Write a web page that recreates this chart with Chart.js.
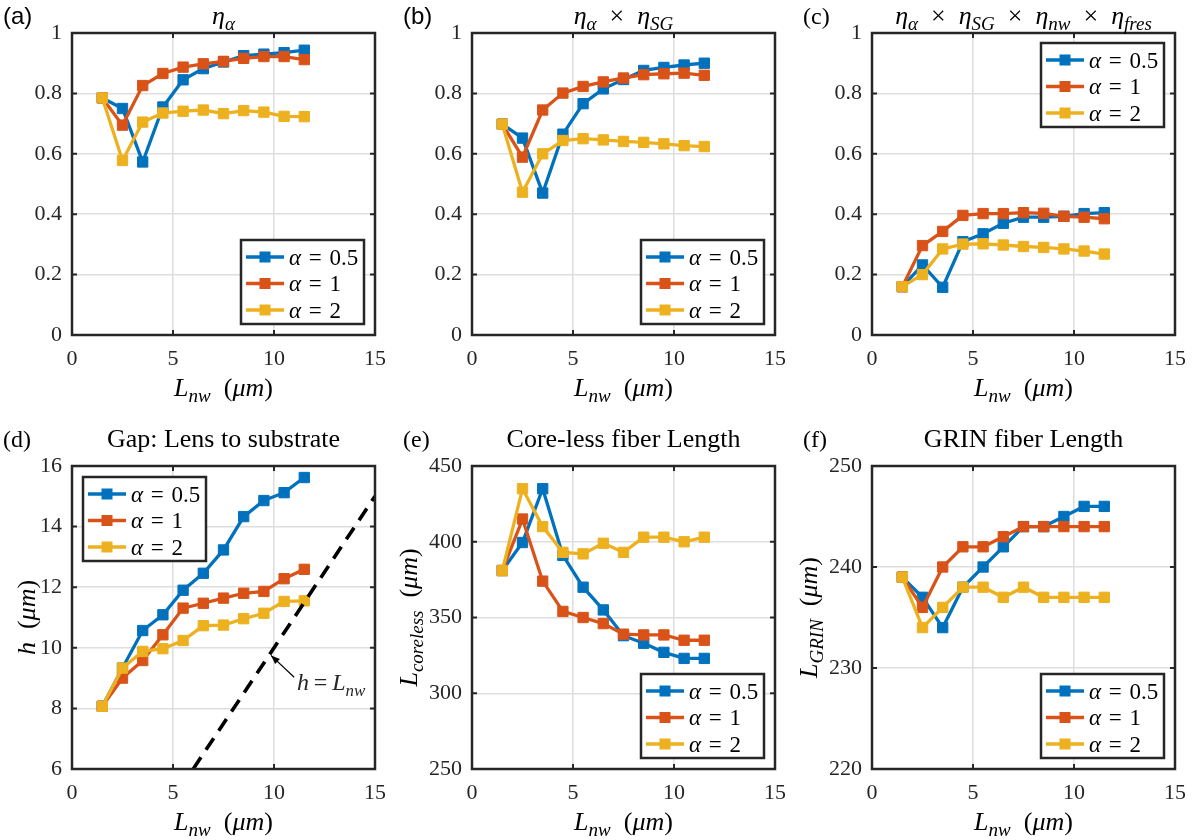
<!DOCTYPE html>
<html>
<head>
<meta charset="utf-8">
<script src="https://cdn.jsdelivr.net/npm/chart.js@4.4.1/dist/chart.umd.min.js"></script>
<style>
  html, body { margin: 0; padding: 0; background: #fff; }
  body { width: 1195px; height: 840px; overflow: hidden; position: relative; }
  canvas { position: absolute; }
</style>
</head>
<body>
<script>
// Nanowire length sweep (µm)
const lnw = [1.5, 2.5, 3.5, 4.5, 5.5, 6.5, 7.5, 8.5, 9.5, 10.5, 11.5];
const alphaValues = ['0.5', '1', '2'];

// (a) eta_alpha
const etaA_05 = [0.785, 0.750, 0.573, 0.755, 0.845, 0.882, 0.904, 0.925, 0.930, 0.935, 0.943];
const etaA_1  = [0.785, 0.695, 0.826, 0.866, 0.887, 0.898, 0.906, 0.916, 0.922, 0.922, 0.912];
const etaA_2  = [0.785, 0.578, 0.705, 0.735, 0.741, 0.745, 0.733, 0.743, 0.738, 0.724, 0.723];

// (b) eta_alpha x eta_SG
const etaSG_05 = [0.698, 0.652, 0.470, 0.665, 0.766, 0.815, 0.846, 0.876, 0.886, 0.894, 0.900];
const etaSG_1  = [0.698, 0.589, 0.745, 0.801, 0.823, 0.838, 0.851, 0.862, 0.865, 0.867, 0.860];
const etaSG_2  = [0.698, 0.473, 0.600, 0.644, 0.650, 0.646, 0.641, 0.638, 0.633, 0.627, 0.624];

// (c) total efficiency
const etaT_05 = [0.160, 0.232, 0.158, 0.309, 0.335, 0.370, 0.390, 0.390, 0.393, 0.402, 0.405];
const etaT_1  = [0.160, 0.296, 0.343, 0.396, 0.402, 0.402, 0.405, 0.403, 0.393, 0.390, 0.385];
const etaT_2  = [0.160, 0.200, 0.285, 0.301, 0.302, 0.298, 0.293, 0.290, 0.285, 0.278, 0.268];

// (d) lens-to-substrate gap h (µm)
const gap_05 = [8.07, 9.33, 10.57, 11.09, 11.90, 12.46, 13.23, 14.33, 14.86, 15.12, 15.62];
const gap_1  = [8.07, 9.00, 9.58, 10.43, 11.31, 11.47, 11.64, 11.80, 11.86, 12.28, 12.59];
const gap_2  = [8.07, 9.33, 9.88, 9.97, 10.24, 10.73, 10.75, 10.96, 11.14, 11.53, 11.55];
// reference line h = L_nw
const identityX = [6, 15];
const identityY = [6, 15];

// (e) core-less fiber length (µm)
const coreless_05 = [381, 399.5, 435, 391, 370, 355, 338, 333, 327, 323, 323];
const coreless_1  = [381, 415, 374, 354, 350, 346, 339, 338.5, 338.5, 335, 335];
const coreless_2  = [381, 435, 410, 393, 392, 399, 393, 403, 403, 400, 403];

// (f) GRIN fiber length (µm)
const grin_05 = [239, 237, 234, 238, 240, 242, 244, 244, 245, 246, 246];
const grin_1  = [239, 236, 240, 242, 242, 243, 244, 244, 244, 244, 244];
const grin_2  = [239, 234, 236, 238, 238, 237, 238, 237, 237, 237, 237];

// tick values
const lnwTicks      = [0, 5, 10, 15];
const etaTicks      = [0, 0.2, 0.4, 0.6, 0.8, 1];
const gapTicks      = [6, 8, 10, 12, 14, 16];
const corelessTicks = [250, 300, 350, 400, 450];
const grinTicks     = [220, 230, 240, 250];

const COLORS = ['#0072BD', '#D95319', '#EDB120'];
const SERIF = '"Liberation Serif", "DejaVu Serif", serif';
const SANS = '"Liberation Sans", Arial, sans-serif';
const FS = 22;       // tick labels
const LFS = 26;      // titles and axis labels
const SP = '\u2002'; // en space around binary operators
const LSP = '\u2004'; // narrower space used in legend entries

// rich-text segments: italic, roman, italic subscript
const I = t => ({ t, it: true });
const R = t => ({ t, it: false });
const S = t => ({ t, it: true, sub: true });

function segFont(s, size) {
  const px = s.sub ? Math.round(size * 0.72) : size;
  return (s.it ? 'italic ' : '') + px + 'px ' + SERIF;
}
function richWidth(ctx, segs, size) {
  let w = 0;
  segs.forEach(s => { ctx.font = segFont(s, size); w += ctx.measureText(s.t).width; });
  return w;
}
function drawRich(ctx, segs, x, y, size, align) {
  const w = richWidth(ctx, segs, size);
  let cx = align === 'center' ? x - w / 2 : (align === 'right' ? x - w : x);
  ctx.textAlign = 'left';
  ctx.textBaseline = 'alphabetic';
  segs.forEach(s => {
    ctx.font = segFont(s, size);
    ctx.fillText(s.t, cx, y + (s.sub ? size * 0.24 : 0));
    cx += ctx.measureText(s.t).width;
  });
}

const X = R(SP + '×' + SP);
const xLabel = [I('L'), S('nw'), R('\u2002('), I('μm'), R(')')];

const panels = [
  { tag: '(a)', tagFont: SANS, row: 0, col: 0, title: [I('η'), S('α')],
    series: [etaA_05, etaA_1, etaA_2], yTicks: etaTicks, legend: 'br' },
  { tag: '(b)', tagFont: SANS, row: 0, col: 1,
    title: [I('η'), S('α'), X, I('η'), S('SG')],
    series: [etaSG_05, etaSG_1, etaSG_2], yTicks: etaTicks, legend: 'br' },
  { tag: '(c)', tagFont: SERIF, row: 0, col: 2,
    title: [I('η'), S('α'), X, I('η'), S('SG'), X, I('η'), S('nw'), X, I('η'), S('fres')],
    series: [etaT_05, etaT_1, etaT_2], yTicks: etaTicks, legend: 'tr' },
  { tag: '(d)', tagFont: SERIF, row: 1, col: 0, title: [R('Gap: Lens to substrate')],
    series: [gap_05, gap_1, gap_2], yTicks: gapTicks, legend: 'tl',
    yLabel: [I('h'), R('\u2002('), I('μm'), R(')')], yLabelDx: -37, identity: true },
  { tag: '(e)', tagFont: SERIF, row: 1, col: 1, title: [R('Core-less fiber Length')],
    series: [coreless_05, coreless_1, coreless_2], yTicks: corelessTicks, legend: 'br',
    yLabel: [I('L'), S('coreless'), R('\u2002('), I('μm'), R(')')], yLabelDx: -55 },
  { tag: '(f)', tagFont: SERIF, row: 1, col: 2, title: [R('GRIN fiber Length')],
    series: [grin_05, grin_1, grin_2], yTicks: grinTicks, legend: 'br',
    yLabel: [I('L'), S('GRIN'), R('\u2002('), I('μm'), R(')')], yLabelDx: -55 }
];

// page layout of the plot boxes
const COL_L = [72, 471.7, 871.7];
const ROW_T = [33, 466];
const ROW_H = [302, 303];
const PLOT_W = 303;
const ROW_TITLE_DY = [-9, -19];
const PADL = 90, PADT = 45, PADR = 25, XH = 95;

function makePanelPlugin(p) {
  return {
    id: 'panelDecor',
    afterDatasetsDraw(chart) {
      const { ctx, chartArea: a, scales: { x, y } } = chart;
      ctx.save();
      // inward tick marks on all four sides
      ctx.strokeStyle = '#262626';
      ctx.lineWidth = 2;
      const tl = 5;
      ctx.beginPath();
      x.ticks.forEach(t => {
        const px = x.getPixelForValue(t.value);
        ctx.moveTo(px, a.bottom); ctx.lineTo(px, a.bottom - tl);
        ctx.moveTo(px, a.top); ctx.lineTo(px, a.top + tl);
      });
      y.ticks.forEach(t => {
        const py = y.getPixelForValue(t.value);
        ctx.moveTo(a.left, py); ctx.lineTo(a.left + tl, py);
        ctx.moveTo(a.right, py); ctx.lineTo(a.right - tl, py);
      });
      ctx.stroke();
      // axes box
      ctx.lineWidth = 2.5;
      ctx.strokeRect(a.left, a.top, a.right - a.left, a.bottom - a.top);

      // annotation for the h = L_nw line
      if (p.identity) {
        const tip = [x.getPixelForValue(9.85), y.getPixelForValue(9.75)];
        const tail = [x.getPixelForValue(11.0), y.getPixelForValue(9.03)];
        ctx.strokeStyle = '#000';
        ctx.fillStyle = '#000';
        ctx.lineWidth = 1.2;
        ctx.beginPath();
        ctx.moveTo(tail[0], tail[1]); ctx.lineTo(tip[0], tip[1]);
        ctx.stroke();
        const ang = Math.atan2(tip[1] - tail[1], tip[0] - tail[0]);
        const hl = 9, hw = 3.5;
        ctx.beginPath();
        ctx.moveTo(tip[0], tip[1]);
        ctx.lineTo(tip[0] - hl * Math.cos(ang) + hw * Math.sin(ang), tip[1] - hl * Math.sin(ang) - hw * Math.cos(ang));
        ctx.lineTo(tip[0] - hl * Math.cos(ang) - hw * Math.sin(ang), tip[1] - hl * Math.sin(ang) + hw * Math.cos(ang));
        ctx.closePath();
        ctx.fill();
        ctx.fillStyle = '#262626';
        drawRich(ctx, [I('h'), R('\u2009=\u2009'), I('L'), S('nw')], x.getPixelForValue(11.14), y.getPixelForValue(8.61), 24, 'left');
      }

      // legend box
      const bw = 123, bh = 84;
      let bx, by;
      if (p.legend === 'br') { bx = a.right - 11 - bw; by = a.bottom - 11 - bh; }
      else if (p.legend === 'tr') { bx = a.right - 11 - bw; by = a.top + 10; }
      else { bx = a.left + 11; by = a.top + 11; }
      ctx.fillStyle = '#fff';
      ctx.fillRect(bx, by, bw, bh);
      ctx.strokeStyle = '#262626';
      ctx.lineWidth = 2.5;
      ctx.strokeRect(bx, by, bw, bh);
      chart.data.datasets.forEach((ds, i) => {
        if (!ds.legendText) return;
        const cy = by + 17 + i * 26.5;
        ctx.strokeStyle = ds.borderColor;
        ctx.lineWidth = 3.3;
        ctx.beginPath();
        ctx.moveTo(bx + 5, cy); ctx.lineTo(bx + 43, cy);
        ctx.stroke();
        ctx.fillStyle = ds.borderColor;
        ctx.fillRect(bx + 24 - 5.5, cy - 5.5, 11, 11);
        ctx.fillStyle = '#000';
        drawRich(ctx, ds.legendText, bx + 48, cy + 7.5, 23, 'left');
      });
      ctx.restore();
    },
    afterDraw(chart) {
      const { ctx, chartArea: a } = chart;
      ctx.save();
      ctx.fillStyle = '#000';
      const ty = a.top + ROW_TITLE_DY[p.row];
      drawRich(ctx, p.title, (a.left + a.right) / 2, ty, LFS, 'center');
      // panel tag
      ctx.font = '24px ' + p.tagFont;
      ctx.textAlign = 'left';
      ctx.textBaseline = 'alphabetic';
      ctx.fillText(p.tag, a.left - 69, ty);
      // x axis label
      drawRich(ctx, xLabel, (a.left + a.right) / 2, a.bottom + 61, LFS, 'center');
      // y axis label
      if (p.yLabel) {
        ctx.translate(a.left + p.yLabelDx, (a.top + a.bottom) / 2);
        ctx.rotate(-Math.PI / 2);
        drawRich(ctx, p.yLabel, 0, 0, LFS, 'center');
      }
      ctx.restore();
    }
  };
}

panels.forEach(p => {
  const plotL = COL_L[p.col], plotT = ROW_T[p.row], H = ROW_H[p.row];
  const cw = PADL + PLOT_W + PADR;
  const ch = PADT + H + XH;
  const canvas = document.createElement('canvas');
  canvas.width = cw; canvas.height = ch;
  canvas.style.left = (plotL - PADL) + 'px';
  canvas.style.top = (plotT - PADT) + 'px';
  canvas.style.width = cw + 'px';
  canvas.style.height = ch + 'px';
  document.body.appendChild(canvas);

  const datasets = p.series.map((s, k) => ({
    data: lnw.map((xv, i) => ({ x: xv, y: s[i] })),
    legendText: [I('α'), R(LSP + '=' + LSP + alphaValues[k])],
    borderColor: COLORS[k],
    backgroundColor: COLORS[k],
    pointBackgroundColor: COLORS[k],
    pointBorderColor: COLORS[k],
    borderWidth: 3.3,
    pointStyle: 'rect',
    pointRadius: 7.3,
    pointBorderWidth: 1,
    tension: 0,
    order: 3 - k
  }));
  if (p.identity) {
    datasets.push({
      data: identityX.map((xv, i) => ({ x: xv, y: identityY[i] })),
      borderColor: '#000',
      borderWidth: 3.6,
      borderDash: [14, 9],
      pointRadius: 0,
      tension: 0,
      order: 0
    });
  }

  const tickFont = { family: SERIF, size: FS };
  new Chart(canvas, {
    type: 'line',
    data: { datasets },
    options: {
      responsive: false,
      animation: false,
      devicePixelRatio: 1,
      events: [],
      layout: { padding: { left: 0, top: PADT, right: PADR, bottom: 0 } },
      plugins: { legend: { display: false }, tooltip: { enabled: false }, title: { display: false } },
      scales: {
        x: {
          type: 'linear', min: lnwTicks[0], max: lnwTicks[lnwTicks.length - 1],
          afterBuildTicks: sc => { sc.ticks = lnwTicks.map(v => ({ value: v })); },
          afterFit: sc => { sc.height = XH; },
          grid: { color: '#dedede', lineWidth: 1.5, drawTicks: false },
          border: { display: false },
          ticks: { font: tickFont, color: '#262626', padding: 11, maxRotation: 0, autoSkip: false,
                   callback: v => String(v) }
        },
        y: {
          type: 'linear', min: p.yTicks[0], max: p.yTicks[p.yTicks.length - 1],
          afterBuildTicks: sc => { sc.ticks = p.yTicks.map(v => ({ value: v })); },
          afterFit: sc => { sc.width = PADL; },
          grid: { color: '#dedede', lineWidth: 1.5, drawTicks: false },
          border: { display: false },
          ticks: { font: tickFont, color: '#262626', padding: 10, autoSkip: false,
                   callback: v => String(+Number(v).toFixed(2)) }
        }
      }
    },
    plugins: [makePanelPlugin(p)]
  });
});
</script>
</body>
</html>
